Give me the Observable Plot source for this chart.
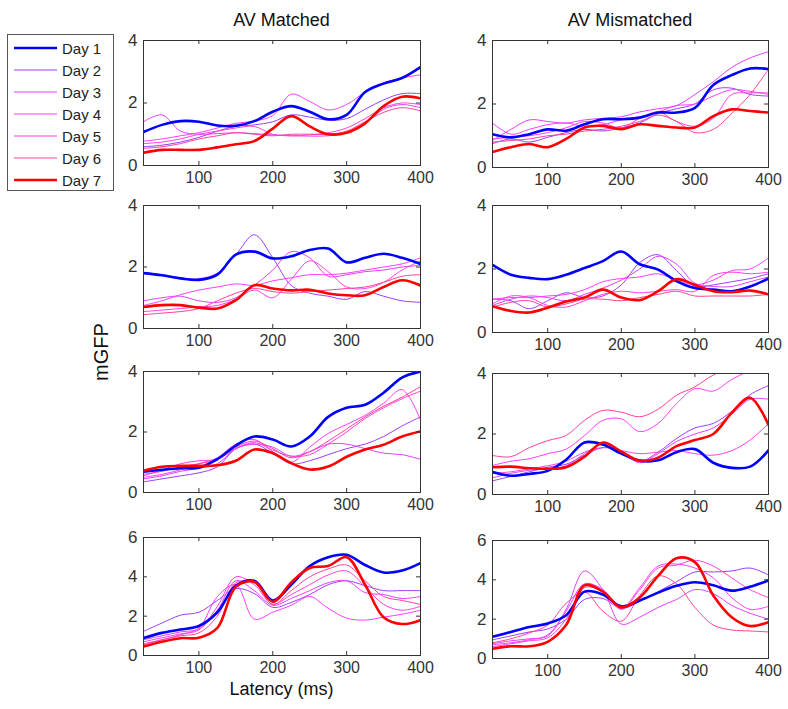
<!DOCTYPE html>
<html><head><meta charset="utf-8">
<script src="https://cdn.jsdelivr.net/npm/d3@7"></script>
<script src="https://cdn.jsdelivr.net/npm/@observablehq/plot@0.6"></script>
<style>
body{margin:0;background:#fff;font-family:Arial,"Liberation Sans",sans-serif;}
#root{position:relative;width:788px;height:709px;overflow:hidden;background:#fff;}
</style></head><body><div id="root"></div>
<script>
// ---- data ----
const latency = [25,50,75,100,125,150,175,200,225,250,275,300,325,350,375,400];
const days = ["Day 1","Day 2","Day 3","Day 4","Day 5","Day 6","Day 7"];
const columnTitles = ["AV Matched","AV Mismatched"];
const xTicks = [100,200,300,400];
const yTicksLow = [0,2,4];
const yTicksHigh = [0,2,4,6];
const yMaxRows = [4,4,4,6];

const matched1 = [
  [1.07,1.3,1.42,1.4,1.28,1.27,1.42,1.72,1.9,1.72,1.48,1.62,2.35,2.62,2.8,3.15],
  [0.6,0.65,0.75,0.9,1.1,1.25,1.3,1.4,1.62,1.55,1.45,1.5,1.8,2.1,2.3,2.3],
  [1.4,1.62,1.1,1.0,1.02,1.05,1.02,0.98,0.95,0.94,0.95,1.05,1.35,1.8,1.95,1.85],
  [0.78,0.85,0.95,1.05,1.2,1.35,1.42,1.6,2.28,2.05,1.78,1.95,2.35,2.65,2.8,2.9],
  [0.7,0.75,0.85,1.0,1.1,1.2,1.25,1.0,0.95,0.98,1.05,1.2,1.5,1.85,2.0,1.95],
  [0.55,0.6,0.7,0.85,0.95,1.05,1.0,0.95,1.0,1.0,1.0,1.1,1.4,1.7,1.85,1.75],
  [0.41,0.5,0.5,0.5,0.58,0.68,0.78,1.18,1.58,1.25,1.0,1.05,1.35,1.9,2.2,2.15]
];
const mismatched1 = [
  [1.05,0.95,1.05,1.2,1.16,1.36,1.52,1.52,1.57,1.73,1.73,1.88,2.6,2.91,3.12,3.1],
  [0.75,0.9,0.8,0.95,1.1,1.2,1.15,1.25,1.4,1.7,1.85,2.0,2.45,2.5,2.3,2.25],
  [0.85,1.2,1.5,1.45,1.4,1.5,1.55,1.6,1.75,1.85,1.95,2.3,2.7,3.15,3.45,3.65],
  [1.4,1.05,1.2,1.35,1.4,1.3,1.35,1.5,1.6,1.75,1.95,2.0,2.25,2.45,2.4,2.3],
  [0.9,0.95,1.0,1.1,1.25,1.45,1.4,1.25,1.55,1.75,1.45,1.3,1.55,2.3,2.35,2.35],
  [0.8,0.85,0.9,1.0,1.05,1.15,1.2,1.3,1.45,1.65,1.45,1.1,1.2,1.7,2.3,3.1],
  [0.49,0.64,0.74,0.64,0.9,1.26,1.31,1.21,1.36,1.31,1.26,1.26,1.62,1.83,1.78,1.73]
];
const matched2 = [
  [1.8,1.73,1.63,1.58,1.75,2.4,2.5,2.28,2.35,2.55,2.6,2.15,2.3,2.43,2.3,2.1],
  [1.8,1.75,1.65,1.62,1.8,2.4,3.05,2.3,1.4,1.15,1.05,0.95,1.2,1.05,0.9,0.85],
  [0.9,1.0,1.05,0.9,0.85,1.0,1.4,1.9,2.5,2.3,1.7,1.75,1.85,1.9,2.0,2.05],
  [0.75,0.9,1.1,1.25,1.35,1.45,1.4,1.55,1.65,1.75,1.75,1.8,1.9,2.0,2.1,2.3],
  [0.55,0.6,0.65,0.7,0.75,0.95,1.25,1.0,1.6,2.2,1.85,1.35,1.3,1.5,1.9,2.2],
  [0.45,0.5,0.55,0.65,0.9,1.15,1.3,1.2,1.15,1.2,1.25,1.3,1.35,1.5,1.7,1.75],
  [0.7,0.76,0.76,0.68,0.65,0.92,1.41,1.3,1.24,1.26,1.14,1.08,1.08,1.35,1.57,1.4]
];
const mismatched2 = [
  [2.13,1.82,1.72,1.68,1.82,2.03,2.25,2.55,2.15,1.98,1.62,1.4,1.35,1.3,1.45,1.7],
  [1.05,1.0,0.75,1.0,1.25,1.1,1.15,1.5,2.2,2.45,1.95,1.45,1.5,1.6,1.7,1.85],
  [0.85,1.05,1.15,1.1,1.0,1.2,1.4,1.65,2.0,2.4,2.15,1.55,1.45,1.45,1.6,1.75],
  [1.05,1.1,1.1,1.15,1.2,1.35,1.6,1.7,1.75,1.85,1.65,1.5,1.65,1.95,2.0,2.35],
  [0.9,1.15,1.1,0.85,0.8,1.0,1.2,1.3,1.25,1.3,1.35,1.3,1.8,1.9,1.85,1.9],
  [0.8,0.95,1.0,0.8,0.9,1.05,1.05,1.0,1.1,1.2,1.3,1.15,1.15,1.15,1.15,1.2],
  [0.83,0.68,0.63,0.78,0.98,1.1,1.35,1.1,1.02,1.3,1.68,1.5,1.3,1.27,1.32,1.2]
];
const matched3 = [
  [0.69,0.75,0.8,0.82,1.1,1.55,1.85,1.75,1.52,1.85,2.5,2.8,2.9,3.3,3.8,4.0],
  [0.35,0.45,0.55,0.65,0.85,1.45,1.6,1.3,0.95,1.05,1.25,1.45,1.6,1.85,2.2,2.5],
  [0.45,0.55,0.7,0.8,0.95,1.45,1.6,1.5,1.2,1.35,1.6,1.6,1.45,1.3,1.25,1.1],
  [0.5,0.6,0.75,0.95,1.15,1.6,1.75,1.35,1.0,1.5,1.95,2.25,2.55,2.95,3.4,2.4],
  [0.55,0.75,0.95,1.05,1.1,1.45,1.65,1.4,1.2,1.25,1.6,2.0,2.45,2.8,3.1,3.35],
  [0.6,0.7,0.85,0.95,1.1,1.5,1.7,1.45,1.15,1.35,1.7,2.1,2.5,2.85,3.15,3.5],
  [0.72,0.85,0.88,0.88,0.9,1.05,1.42,1.3,0.97,0.76,0.86,1.18,1.42,1.58,1.85,2.02]
];
const mismatched3 = [
  [0.74,0.62,0.68,0.78,1.15,1.72,1.65,1.35,1.12,1.13,1.4,1.5,1.05,0.88,0.92,1.46],
  [0.45,0.6,0.75,0.9,1.0,1.3,1.55,1.45,1.1,1.4,1.85,2.2,2.35,2.75,3.3,3.6],
  [0.55,0.7,0.8,0.85,0.95,1.35,1.65,1.4,1.05,1.35,1.75,2.0,2.2,2.65,3.15,3.15],
  [0.96,1.1,1.18,1.35,1.5,1.95,2.45,2.5,2.08,2.35,3.0,3.5,3.42,3.8,4.1,4.3],
  [0.7,0.75,0.85,0.95,1.1,1.4,1.55,1.45,1.35,1.4,1.45,1.35,1.3,1.45,1.8,2.35],
  [1.29,1.25,1.55,1.78,1.95,2.45,2.78,2.72,2.57,2.82,3.28,3.56,3.95,4.2,4.4,4.5],
  [0.9,0.92,0.87,0.85,0.9,1.25,1.72,1.42,1.12,1.22,1.6,1.8,2.0,2.7,3.2,2.3]
];
const matched4 = [
  [0.89,1.15,1.32,1.5,2.2,3.55,3.8,2.8,3.6,4.55,5.0,5.12,4.6,4.22,4.32,4.7],
  [1.23,1.65,2.05,2.2,2.8,3.4,3.15,2.45,2.7,3.1,3.6,3.8,3.55,3.3,3.3,3.3],
  [0.8,1.0,1.2,1.35,2.3,3.8,3.3,2.55,2.9,3.3,3.7,3.8,3.2,3.1,2.9,3.0],
  [0.6,0.8,1.05,1.4,3.0,3.6,1.85,2.2,2.55,3.0,2.4,1.9,1.8,1.95,2.1,2.3],
  [0.7,0.9,1.1,1.3,2.5,4.0,3.6,2.6,3.1,3.6,4.1,4.3,3.5,2.6,2.3,2.5],
  [0.55,0.8,1.0,1.15,2.0,3.7,3.7,2.6,3.3,4.0,4.4,4.6,3.8,3.0,2.8,2.6],
  [0.46,0.7,0.88,0.9,1.4,3.5,3.75,2.73,3.72,4.45,4.55,5.0,3.6,1.95,1.6,1.8]
];
const mismatched4 = [
  [1.1,1.35,1.6,1.78,2.2,3.4,3.25,2.65,2.95,3.35,3.7,3.88,3.72,3.45,3.65,3.97],
  [0.95,1.15,1.35,1.5,2.0,3.0,3.05,2.55,2.9,3.4,3.9,4.4,4.4,4.45,4.6,4.25],
  [0.75,0.9,1.0,1.15,2.5,4.45,3.5,1.75,2.1,2.6,3.0,3.5,3.3,2.7,2.3,2.0],
  [0.7,0.8,0.95,1.2,2.4,3.8,3.5,2.55,3.6,4.7,4.8,4.6,4.1,3.1,2.5,2.65],
  [0.6,0.75,0.9,1.05,2.0,3.6,3.4,2.5,3.5,4.6,4.75,5.0,4.7,4.1,3.5,3.1],
  [0.8,1.0,1.3,1.7,2.8,3.4,2.4,1.9,3.2,4.2,3.8,2.6,1.7,1.45,1.4,1.35],
  [0.5,0.62,0.62,0.85,1.7,3.72,3.4,2.6,3.1,4.2,5.1,4.9,3.2,2.1,1.65,1.85]
];

// ---- styles ----
const dayColors = ["#0000ff","#9d3cff","#e040fb","#ff3cff","#ff40e0","#ff4098","#ff0000"];
const dayWidths = [2.6,1,1,1,1,1,2.6];
const drawOrder = [1,2,3,4,5,0,6];
const fontFamily = "Arial, 'Liberation Sans', sans-serif";

// ---- layout ----
const frameLeft = [143, 492];
const frameWidth = [277, 276];
const frameTop = [[40,205,371,537],[40,205,373,540]];
const frameHeight = [[125,123,121,118],[127,127,121,118]];
const mL = 34, mR = 26, mT = 12, mB = 30;

const root = document.getElementById("root");
const panels = [[matched1, mismatched1],[matched2, mismatched2],[matched3, mismatched3],[matched4, mismatched4]];

panels.forEach((row, r) => row.forEach((series, c) => {
  const W = frameWidth[c], H = frameHeight[c][r], yMax = yMaxRows[r];
  const yTicks = yMax === 6 ? yTicksHigh : yTicksLow;
  const innerY = yTicks.filter(t => t > 0 && t < yMax);
  const innerX = xTicks.filter(t => t < 400);
  const tidy = series.map((vals, i) => latency.map((L, k) => ({day: days[i], latency: L, value: vals[k]})));
  const svg = Plot.plot({
    width: W + mL + mR, height: H + mT + mB,
    marginLeft: mL, marginRight: mR, marginTop: mT, marginBottom: mB,
    x: {domain: [25, 400], label: null},
    y: {domain: [0, yMax], label: null},
    style: {background: "transparent", color: "#333", fontFamily, overflow: "visible"},
    marks: [
      ...drawOrder.map(i => Plot.line(tidy[i], {x: "latency", y: "value", stroke: dayColors[i], strokeWidth: dayWidths[i], curve: "catmull-rom", clip: true})),
      Plot.tickX(innerX, {x: d => d, insetTop: H - 4, stroke: "#333"}),
      Plot.tickX(innerX, {x: d => d, insetBottom: H - 4, stroke: "#333"}),
      Plot.tickY(innerY, {y: d => d, insetRight: W - 4, stroke: "#333"}),
      Plot.tickY(innerY, {y: d => d, insetLeft: W - 4, stroke: "#333"}),
      Plot.axisX({ticks: xTicks, tickSize: 0, tickPadding: 6, fontSize: 16, tickFormat: d => String(d), label: null}),
      Plot.axisY({ticks: yTicks, tickSize: 0, tickPadding: 6, fontSize: 17, tickFormat: d => String(d), label: null}),
      Plot.frame({stroke: "#333", strokeWidth: 1})
    ]
  });
  svg.style.position = "absolute";
  svg.style.left = (frameLeft[c] - mL) + "px";
  svg.style.top = (frameTop[c][r] - mT) + "px";
  root.appendChild(svg);
}));

// ---- titles, axis labels, legend ----
const NS = "http://www.w3.org/2000/svg";
const over = document.createElementNS(NS, "svg");
over.setAttribute("width", 788); over.setAttribute("height", 709);
over.style.position = "absolute"; over.style.left = "0px"; over.style.top = "0px";
over.style.fontFamily = fontFamily;
function txt(x, y, s, size, anchor, rot) {
  const t = document.createElementNS(NS, "text");
  t.setAttribute("x", x); t.setAttribute("y", y);
  t.setAttribute("font-size", size); t.setAttribute("text-anchor", anchor || "middle");
  t.setAttribute("fill", "#111");
  if (rot) t.setAttribute("transform", `rotate(${rot} ${x} ${y})`);
  t.textContent = s; over.appendChild(t); return t;
}
txt(frameLeft[0] + frameWidth[0] / 2, 26, columnTitles[0], 18);
txt(frameLeft[1] + frameWidth[1] / 2, 26, columnTitles[1], 18);
txt(108, 352, "mGFP", 20, "middle", -90);
txt(frameLeft[0] + frameWidth[0] / 2, 695, "Latency (ms)", 18);

const box = document.createElementNS(NS, "rect");
box.setAttribute("x", 7.5); box.setAttribute("y", 34.5); box.setAttribute("width", 106); box.setAttribute("height", 156);
box.setAttribute("fill", "#fff"); box.setAttribute("stroke", "#555");
over.appendChild(box);
days.forEach((d, i) => {
  const y = 48 + i * 22;
  const l = document.createElementNS(NS, "line");
  l.setAttribute("x1", 14); l.setAttribute("x2", 57); l.setAttribute("y1", y); l.setAttribute("y2", y);
  l.setAttribute("stroke", dayColors[i]); l.setAttribute("stroke-width", dayWidths[i] > 1 ? 2.4 : 1.2);
  over.appendChild(l);
  const t = txt(62, y + 5.5, d, 15, "start");
  t.setAttribute("fill", "#222");
});
root.appendChild(over);
</script></body></html>
